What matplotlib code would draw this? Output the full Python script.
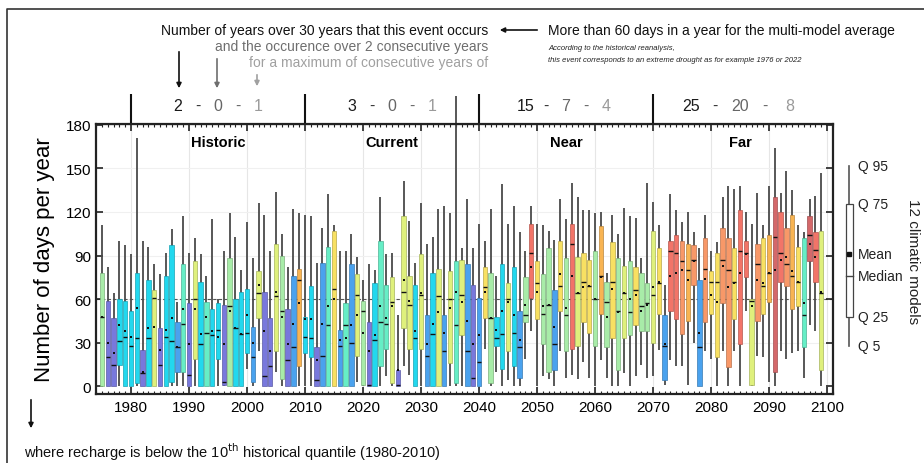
import numpy as np
import matplotlib
matplotlib.use("Agg")
import matplotlib.pyplot as plt
from matplotlib.colors import to_rgb
from matplotlib.ticker import MultipleLocator

plt.rcParams['font.family'] = ['Liberation Sans', 'DejaVu Sans']

# ---- data: one box per year (12 climate models) ----
years = np.arange(1975, 2100)

q95 = [111, 82, 64, 100, 97, 91, 171, 100, 96, 84, 77, 92, 108, 58, 117, 92, 102, 91, 76, 115,
       60, 93, 119, 103, 80, 113, 88, 126, 118, 93, 134, 105, 82, 122, 119, 118, 117, 85, 109, 132,
       111, 93, 93, 105, 89, 73, 84, 80, 130, 91, 92, 49, 141, 114, 85, 126, 98, 103, 122, 124,
       119, 200, 95, 129, 95, 112, 100, 122, 76, 139, 112, 124, 106, 93, 124, 112, 111, 107, 101, 129,
       115, 140, 130, 121, 121, 119, 120, 78, 118, 105, 123, 117, 116, 88, 140, 127, 111, 70, 132, 121,
       113, 120, 106, 95, 118, 93, 99, 130, 138, 136, 138, 120, 112, 133, 111, 138, 164, 133, 148, 135,
       111, 106, 129, 131, 147]
q75 = [78, 59, 47, 60, 59, 52, 78, 25, 73, 66, 40, 76, 97, 44, 84, 57, 86, 72, 58, 53,
       57, 56, 88, 60, 65, 67, 41, 79, 65, 47, 98, 90, 53, 76, 81, 48, 69, 27, 85, 96,
       107, 39, 57, 84, 77, 59, 44, 71, 100, 70, 75, 11, 117, 76, 70, 91, 49, 78, 81, 49,
       79, 86, 87, 84, 70, 61, 82, 78, 48, 84, 71, 82, 52, 75, 112, 86, 77, 95, 66, 100,
       88, 112, 89, 92, 87, 93, 110, 72, 99, 88, 83, 86, 82, 78, 71, 107, 95, 49, 100, 104,
       100, 98, 97, 73, 102, 79, 92, 109, 102, 95, 121, 100, 60, 98, 102, 104, 130, 120, 109, 118,
       96, 102, 117, 106, 107]
median = [48, 20, 15, 31, 34, 28, 33, 9, 33, 61, 15, 34, 31, 27, 43, 8, 60, 29, 37, 35,
          39, 3, 55, 40, 36, 37, 20, 64, 7, 14, 62, 52, 18, 27, 73, 34, 33, 4, 21, 42,
          67, 28, 42, 30, 63, 52, 1, 32, 44, 43, 58, 1, 65, 56, 33, 63, 21, 36, 62, 24,
          60, 42, 63, 24, 6, 17, 68, 47, 33, 36, 60, 37, 27, 49, 92, 71, 50, 56, 29, 69,
          49, 98, 64, 72, 69, 60, 76, 58, 72, 52, 64, 51, 66, 55, 57, 63, 71, 28, 93, 92,
          86, 80, 87, 27, 81, 72, 72, 87, 80, 72, 93, 92, 59, 84, 69, 78, 103, 92, 84, 76,
          72, 49, 104, 94, 64]
mean = [48, 30, 23, 42, 38, 34, 54, 10, 40, 41, 25, 39, 47, 27, 53, 29, 53, 36, 48, 38,
        34, 29, 52, 40, 36, 49, 30, 70, 38, 24, 65, 48, 29, 43, 57, 46, 46, 18, 43, 55,
        60, 32, 33, 42, 49, 37, 24, 35, 55, 47, 55, 11, 73, 59, 38, 64, 29, 43, 51, 37,
        54, 65, 58, 45, 29, 35, 65, 47, 39, 52, 58, 49, 32, 56, 82, 65, 55, 56, 41, 77,
        54, 76, 64, 68, 69, 60, 75, 48, 67, 51, 64, 60, 63, 52, 56, 68, 72, 29, 76, 78,
        80, 73, 86, 37, 74, 63, 58, 83, 68, 71, 78, 91, 55, 73, 71, 78, 80, 87, 89, 79,
        72, 57, 98, 89, 65]
q25 = [0, 0, 0, 15, 0, 0, 2, 0, 0, 0, 0, 0, 3, 10, 10, 0, 19, 0, 0, 0,
       19, 1, 0, 0, 0, 23, 3, 47, 0, 0, 24, 5, 0, 0, 14, 23, 20, 0, 0, 0,
       0, 0, 0, 0, 21, 1, 0, 0, 14, 26, 2, 0, 40, 26, 0, 26, 0, 0, 0, 0,
       16, 2, 35, 0, 0, 0, 47, 2, 28, 12, 24, 14, 6, 44, 61, 46, 29, 10, 11, 52,
       24, 26, 28, 44, 37, 28, 50, 27, 33, 11, 33, 35, 42, 38, 38, 30, 50, 4, 52, 46,
       36, 45, 70, 0, 44, 50, 20, 57, 13, 46, 29, 75, 1, 45, 50, 58, 10, 72, 69, 53,
       55, 27, 86, 72, 11]
q5 = [0, 0, 0, 0, 0, 0, 0, 0, 0, 0, 0, 0, 0, 0, 0, 0, 0, 0, 0, 0,
      0, 0, 0, 0, 0, 12, 0, 24, 0, 0, 10, 0, 0, 0, 0, 0, 0, 0, 0, 0,
      0, 0, 0, 0, 3, 0, 0, 0, 0, 7, 0, 0, 14, 8, 0, 0, 0, 0, 0, 0,
      0, 0, 0, 0, 0, 0, 26, 0, 10, 0, 4, 0, 0, 19, 38, 0, 7, 5, 0, 24,
      6, 8, 5, 17, 6, 0, 18, 6, 0, 0, 9, 0, 7, 15, 6, 7, 25, 1, 18, 14,
      14, 1, 30, 0, 24, 19, 0, 24, 0, 24, 0, 52, 0, 21, 20, 3, 0, 24, 19, 23,
      24, 6, 42, 38, 0]
# colour class of each year (0 = driest-blue ... 10 = dark red)
level = [4, 0, 0, 2, 2, 2, 2, 0, 2, 5, 0, 2, 2, 1, 3, 0, 5, 2, 3, 2,
         2, 0, 4, 2, 2, 2, 1, 5, 0, 0, 5, 4, 0, 1, 7, 2, 2, 0, 1, 3,
         6, 1, 3, 1, 5, 4, 0, 2, 3, 3, 5, 0, 5, 5, 2, 5, 1, 2, 5, 1,
         5, 3, 5, 1, 0, 1, 6, 4, 2, 2, 5, 2, 1, 4, 9, 6, 4, 4, 1, 6,
         4, 9, 5, 6, 6, 4, 7, 4, 6, 4, 5, 4, 6, 4, 4, 5, 6, 1, 9, 9,
         8, 7, 8, 1, 8, 6, 6, 8, 8, 6, 9, 9, 5, 8, 6, 7, 10, 9, 8, 7,
         6, 3, 10, 9, 5]

palette = ['#7878dc', '#4aa2ee', '#22d8ee', '#66eec6', '#a8eca8', '#dff07c',
           '#f8e062', '#f8b452', '#f89868', '#f27468', '#d4686a']

periods = ['Historic', 'Current', 'Near', 'Far']
period_edges = [1980, 2010, 2040, 2070, 2100]
occurrences = [('2', '0', '1'), ('3', '0', '1'), ('15', '7', '4'), ('25', '20', '8')]

threshold = 60

# ---- figure ----
fig = plt.figure(figsize=(9.24, 4.64), dpi=100)
ax = fig.add_axes([96 / 924, 69 / 464, 737 / 924, 270 / 464])
ax.set_xlim(1973.97, 2101.03)
ax.set_ylim(-5.3, 180.5)

face = [palette[l] for l in level]
edge = [tuple(c * 0.75 for c in to_rgb(f)) for f in face]
q25a = np.array(q25)
q75a = np.array(q75)
w = 0.78

ax.vlines(years, q5, q95, color='#4a4a4a', lw=1.3, zorder=2, clip_on=False)
ax.bar(years, q75a - q25a, bottom=q25a, width=w, color=face, edgecolor=edge,
       linewidth=0.5, zorder=3)
ax.hlines(median, years - w / 2, years + w / 2, color='#111111', lw=1.0, zorder=4)
ax.scatter(years, mean, marker='s', s=4, color='#111111', zorder=5, linewidths=0)

ax.axhline(threshold, color='#555555', lw=0.8, ls=(0, (3, 2)), zorder=1)
for x in range(1980, 2101, 10):
    ax.axvline(x, color='#e6e6e6', lw=0.8, zorder=0)
for y in range(30, 181, 30):
    ax.axhline(y, color='#f0f0f0', lw=0.8, zorder=0)

ax.xaxis.set_major_locator(MultipleLocator(10))
ax.xaxis.set_minor_locator(MultipleLocator(1))
ax.yaxis.set_major_locator(MultipleLocator(30))
ax.tick_params(which='both', direction='in', top=True, right=True, labelsize=11,
               color='#222222')
ax.tick_params(which='major', length=5, width=1.2)
ax.tick_params(which='minor', length=2.5, width=0.8)
ax.tick_params(axis='x', pad=4)
for s in ax.spines.values():
    s.set_linewidth(1.6)
    s.set_color('#222222')
ax.set_ylabel('Number of days per year', fontsize=16, labelpad=8)

# period names, dividers and occurrence counts
for i, name in enumerate(periods):
    mid = (period_edges[i] + period_edges[i + 1]) / 2
    ax.text(mid, 168, name, ha='center', va='center', fontsize=10.5, fontweight='bold')
    a, b, c = occurrences[i]
    off = 7 if i < 3 else 8.5
    ax.text(mid - off, 193, a, ha='center', va='center', fontsize=11.5, color='#1a1a1a', clip_on=False)
    ax.text(mid - off / 2, 193, '-', ha='center', va='center', fontsize=11.5, color='#333333', clip_on=False)
    ax.text(mid, 193, b, ha='center', va='center', fontsize=11.5, color='#666666', clip_on=False)
    ax.text(mid + off / 2, 193, '-', ha='center', va='center', fontsize=11.5, color='#666666', clip_on=False)
    ax.text(mid + off, 193, c, ha='center', va='center', fontsize=11.5, color='#9a9a9a', clip_on=False)
ax.vlines(period_edges[:-1], 180.5, 201, color='#111111', lw=1.5, clip_on=False)

# ---- overlay in pixel units for annotations ----
ov = fig.add_axes([0, 0, 1, 1], zorder=-1)
ov.set_xlim(0, 924)
ov.set_ylim(464, 0)
ov.axis('off')

ov.plot([7, 7, 924], [464, 10, 10], color='#333333', lw=1.2)

ov.text(488, 31, 'Number of years over 30 years that this event occurs', ha='right',
        va='center', fontsize=10, color='#111111')
ov.text(488, 47, 'and the occurence over 2 consecutive years', ha='right', va='center',
        fontsize=10, color='#6e6e6e')
ov.text(488, 63, 'for a maximum of consecutive years of', ha='right', va='center',
        fontsize=10, color='#a0a0a0')
arrow = dict(arrowstyle='-|>', lw=1.2, mutation_scale=7)
ov.annotate('', xy=(179, 92), xytext=(179, 50), arrowprops=dict(arrow, color='#111111'))
ov.annotate('', xy=(217, 92), xytext=(217, 57), arrowprops=dict(arrow, color='#6e6e6e'))
ov.annotate('', xy=(257, 90), xytext=(257, 73), arrowprops=dict(arrow, color='#a0a0a0'))
ov.annotate('', xy=(497, 31), xytext=(540, 31), arrowprops=dict(arrow, color='#111111'))

ov.text(548, 31, 'More than 60 days in a year for the multi-model average', ha='left',
        va='center', fontsize=10, color='#111111')
ov.text(548, 48, 'According to the historical reanalysis,', ha='left', va='center',
        fontsize=5.5, style='italic', color='#222222')
ov.text(548, 60, 'this event corresponds to an extreme drought as for example 1976 or 2022',
        ha='left', va='center', fontsize=5.5, style='italic', color='#222222')

ov.annotate('', xy=(31, 432), xytext=(31, 398), arrowprops=dict(arrow, color='#111111'))
ov.text(24, 452, 'where recharge is below the 10$^{\\mathrm{th}}$ historical quantile (1980-2010)',
        ha='left', va='center', fontsize=10.5, color='#111111')

# key on the right
ov.plot([849, 849], [167, 347], color='#555555', lw=1.2)
ov.add_patch(plt.Rectangle((846, 205), 6.5, 113, facecolor='white', edgecolor='#444444', lw=0.9,
                           zorder=3))
ov.plot([846, 852.5], [277, 277], color='#444444', lw=1, zorder=4)
ov.plot([849], [255], marker='s', ms=2.5, color='#111111', zorder=5)
for txt, yy in [('Q 95', 167), ('Q 75', 205), ('Mean', 255), ('Median', 277),
                ('Q 25', 318), ('Q 5', 347)]:
    ov.text(858, yy, txt, ha='left', va='center', fontsize=10, color='#222222')
ov.text(913, 262, '12 climatic models', ha='center', va='center', rotation=-90,
        fontsize=11, color='#222222')

fig.savefig('out.png', dpi=100)
